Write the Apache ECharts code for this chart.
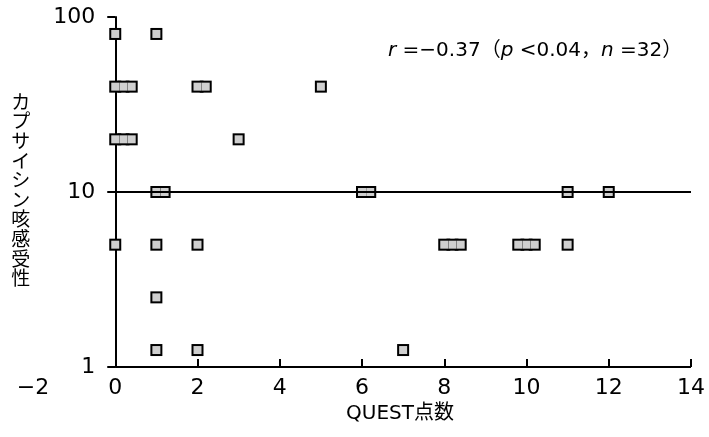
<!DOCTYPE html>
<html>
<head>
<meta charset="utf-8">
<script src="https://cdn.jsdelivr.net/npm/echarts@6/dist/echarts.min.js"></script>
<style>
  html, body { margin: 0; padding: 0; background: #fff; }
  #main { width: 709px; height: 437px; }
</style>
</head>
<body>
<div id="main"></div>
<script>
// QUEST点数 (x) and カプサイシン咳感受性 (y); tied points are drawn side by side
var questScores = [0, 1, 0, 0.2, 0.4, 2, 2.2, 5, 0, 0.2, 0.4, 3, 1, 1.2, 6, 6.2, 11, 12,
	0, 1, 2, 8, 8.2, 8.4, 9.8, 10, 10.2, 11, 1, 1, 2, 7];
var sensitivity = [80, 80, 40, 40, 40, 40, 40, 40, 20, 20, 20, 20, 10, 10, 10, 10, 10, 10,
	5, 5, 5, 5, 5, 5, 5, 5, 5, 5, 2.5, 1.25, 1.25, 1.25];
var xTicks = [-2, 0, 2, 4, 6, 8, 10, 12, 14];
var xInnerTicks = [2, 4, 6, 8, 10, 12, 14];
var yTicks = [1, 10, 100];
var stats = { r: '−0.37', p: '0.04', n: '32' };

var font = '"DejaVu Sans", "Noto Sans CJK JP", sans-serif';

function scatterDemo(){
	var chart = echarts.init(document.getElementById('main'), null, { renderer: 'canvas' });

	var points = questScores.map(function (x, i) { return [x, sensitivity[i]]; });

	var gridLeft = 33, gridRight = 18;
	// the y axis sits on x = 0, two units in from the left edge of the grid
	var unitPx = (709 - gridLeft - gridRight) / (xTicks[xTicks.length - 1] - xTicks[0]);
	var yAxisShift = -(0 - xTicks[0]) * unitPx;

	var option = {
		animation: false,
		backgroundColor: '#fff',
		textStyle: { fontFamily: font, color: '#000' },
		grid: { left: gridLeft, right: gridRight, top: 17, bottom: 70, outerBoundsMode: 'none', containLabel: false },
		graphic: [{
			type: 'text',
			left: 388,
			top: 41,
			style: {
				text: '{i|r} =' + stats.r + '（{i|p} <' + stats.p + '，{i|n} =' + stats.n + '）',
				font: '20px ' + font,
				fill: '#000',
				rich: {
					i: { fontStyle: 'italic', fontSize: 20, fontFamily: font }
				}
			}
		}],
		xAxis: {
			type: 'value',
			min: xTicks[0],
			max: xTicks[xTicks.length - 1],
			interval: 2,
			name: 'QUEST点数',
			nameLocation: 'middle',
			nameGap: 36,
			nameTextStyle: { fontSize: 20, color: '#000', fontFamily: font, padding: [0, 0, 0, 76] },
			axisLine: { show: true, lineStyle: { color: '#000', width: 2, opacity: 0 } },
			axisTick: {
				show: true,
				inside: true,
				length: 8,
				customValues: xInnerTicks,
				lineStyle: { color: '#000', width: 2 }
			},
			axisLabel: {
				fontSize: 22,
				color: '#000',
				margin: 10,
				fontFamily: font,
				formatter: function (v) { return v < 0 ? '−' + (-v) : String(v); }
			},
			splitLine: { show: false }
		},
		yAxis: {
			type: 'log',
			logBase: 10,
			min: yTicks[0],
			max: yTicks[yTicks.length - 1],
			offset: yAxisShift,
			name: 'カプサイシン咳感受性'.split('').join('\n'),
			nameLocation: 'middle',
			nameRotate: 0,
			nameGap: 85,
			nameTextStyle: { fontSize: 19, lineHeight: 19.6, color: '#000', fontFamily: font },
			axisLine: { show: true, onZero: false, lineStyle: { color: '#000', width: 2 } },
			axisTick: { show: true, inside: false, length: 8, lineStyle: { color: '#000', width: 2 } },
			axisLabel: { fontSize: 22, color: '#000', margin: 20, fontFamily: font },
			splitLine: { show: false }
		},
		series: [{
			// black outer squares, also carries the reference lines
			type: 'scatter',
			symbol: 'rect',
			symbolSize: 12,
			z: 2,
			itemStyle: { color: '#000', opacity: 1 },
			data: points,
			markLine: {
				silent: true,
				symbol: 'none',
				label: { show: false },
				lineStyle: { color: '#000', width: 2, type: 'solid' },
				data: [
					[{ coord: [0, 10] }, { coord: [14, 10] }],
					[{ coord: [0, 1] }, { coord: [14, 1] }]
				]
			}
		}, {
			// light fill drawn over, so tied points read as one wide box
			type: 'scatter',
			symbol: 'rect',
			symbolSize: 8,
			z: 3,
			itemStyle: { color: '#cfcfcf', opacity: 1 },
			data: points
		}]
	};

	chart.setOption(option);
}

scatterDemo();
</script>
</body>
</html>
